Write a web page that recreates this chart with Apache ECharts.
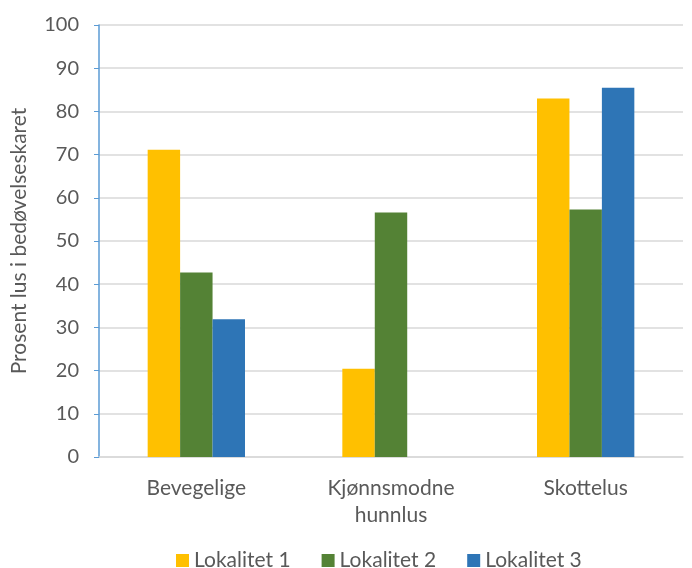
<!DOCTYPE html>
<html><head><meta charset="utf-8">
<script src="https://cdn.jsdelivr.net/npm/echarts@6/dist/echarts.min.js"></script>
<style>html,body{margin:0;padding:0;background:#fff}#c{width:692px;height:568px}</style>
</head><body><div id="c"></div>
<script>
const categories = ['Bevegelige', 'Kjønnsmodne\nhunnlus', 'Skottelus'];
const seriesNames = ['Lokalitet 1', 'Lokalitet 2', 'Lokalitet 3'];
const lok1 = [71.1, 20.4, 83.0];
const lok2 = [42.7, 56.6, 57.3];
const lok3 = [31.9, null, 85.5];
const yTicks = [0, 10, 20, 30, 40, 50, 60, 70, 80, 90, 100];
const colors = ['#FFC000', '#548235', '#2E75B6'];
const font = 'Lato, "Open Sans", sans-serif';
const chart = echarts.init(document.getElementById('c'));
const data = [lok1, lok2, lok3];
chart.setOption({
  animation: false,
  grid: { left: 99, right: 9, top: 25, bottom: 111, outerBoundsMode: 'none', containLabel: false },
  legend: {
    top: 545, left: 171, itemWidth: 13, itemHeight: 13, itemGap: 31,
    icon: 'rect',
    textStyle: { color: '#595959', fontSize: 21, fontFamily: font }
  },
  xAxis: {
    type: 'category', data: categories,
    axisLine: { lineStyle: { color: '#d9d9d9', width: 1.5 } },
    axisTick: { show: false },
    axisLabel: { color: '#595959', fontSize: 21, fontFamily: font, margin: 18, lineHeight: 27 }
  },
  yAxis: {
    type: 'value', min: yTicks[0], max: yTicks[yTicks.length - 1], interval: 10,
    name: 'Prosent lus i bedøvelseskaret', nameLocation: 'middle', nameGap: 69,
    nameTextStyle: { color: '#595959', fontSize: 21, fontFamily: font },
    axisLine: { show: true, lineStyle: { color: '#5B9BD5', width: 1.5 } },
    axisTick: { show: true, length: 5, lineStyle: { color: '#5B9BD5' } },
    axisLabel: { color: '#595959', fontSize: 20, fontFamily: font, margin: 20 },
    splitLine: { lineStyle: { color: '#d9d9d9', width: 1.5 } }
  },
  series: seriesNames.map((n, i) => ({
    name: n, type: 'bar', data: data[i],
    itemStyle: { color: colors[i] },
    barGap: '0%', barCategoryGap: '50%'
  }))
});
</script></body></html>
